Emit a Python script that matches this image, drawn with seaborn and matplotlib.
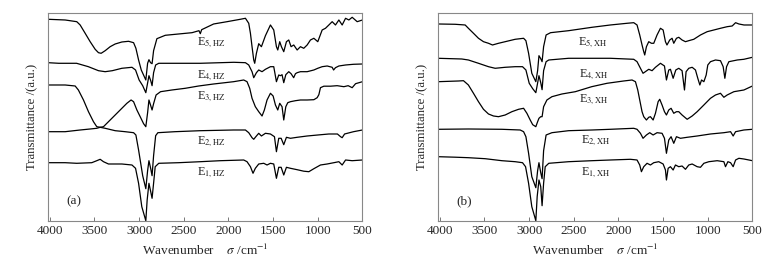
import numpy as np
import pandas as pd
import seaborn as sns
import matplotlib
matplotlib.use("Agg")
import matplotlib.pyplot as plt

# ---------------- data: panel (a) HZ ----------------
HZ_E5_W = [4019, 3828, 3698, 3660, 3604, 3548, 3492, 3455, 3425, 3380, 3324, 3268, 3193, 3118, 3062, 3036, 3006, 2976, 2925, 2905, 2890, 2872, 2855, 2838, 2801, 2707, 2558, 2408, 2330, 2315, 2300, 2166, 2016, 1867, 1810, 1773, 1754, 1736, 1717, 1706, 1687, 1661, 1631, 1586, 1530, 1493, 1463, 1448, 1426, 1407, 1381, 1351, 1325, 1299, 1269, 1231, 1194, 1157, 1119, 1082, 1044, 1000, 951, 914, 876, 839, 802, 764, 727, 689, 652, 615, 559, 500]
HZ_E5_T = [201.4, 200.7, 199, 195.7, 187.4, 179, 171.4, 168, 167.4, 170, 174, 176.7, 178.7, 179.4, 178, 172.4, 160.7, 150.7, 140.7, 157.4, 161, 158, 157, 170, 182, 185.4, 186.7, 188, 190, 187, 191, 196.7, 199, 201.4, 202.4, 197.4, 187.4, 174, 160.7, 157.4, 167.4, 177, 174, 185, 195.7, 190.7, 174, 170.7, 179, 174, 169, 179, 180.7, 174, 175.7, 170.7, 174, 172.4, 175.7, 180.7, 182.4, 179, 190.7, 192.4, 195.7, 199, 195.7, 200.7, 195.7, 202.4, 200.7, 203.4, 199, 200.7]

HZ_E4_W = [4019, 3900, 3700, 3568, 3455, 3380, 3300, 3193, 3080, 3040, 3000, 2960, 2925, 2890, 2870, 2855, 2838, 2815, 2780, 2600, 2315, 1940, 1810, 1773, 1736, 1717, 1687, 1661, 1624, 1586, 1530, 1493, 1463, 1437, 1418, 1400, 1381, 1358, 1325, 1299, 1270, 1250, 1231, 1194, 1119, 1044, 1000, 951, 895, 839, 823, 802, 764, 689, 600, 500]
HZ_E4_T = [158, 157.4, 157.4, 154, 150, 149, 150, 152.4, 153.4, 150.7, 140.7, 135, 128, 145, 140, 135, 148, 155.7, 157.4, 157.4, 157.4, 158.4, 158, 155.7, 149, 143, 148, 150.7, 149, 151.4, 154, 154, 139, 145.7, 145, 146, 138, 146, 149, 147, 143, 147, 148, 149, 149, 150.7, 152.4, 154, 154.7, 153.4, 150.7, 153, 154.7, 155.7, 156.4, 156.7]

HZ_E3_W = [4019, 3828, 3716, 3680, 3623, 3567, 3511, 3474, 3436, 3399, 3343, 3268, 3193, 3137, 3090, 3062, 3025, 2988, 2950, 2925, 2905, 2890, 2870, 2855, 2838, 2810, 2760, 2633, 2483, 2333, 2166, 1942, 1829, 1792, 1762, 1736, 1699, 1661, 1624, 1598, 1568, 1530, 1500, 1474, 1448, 1426, 1400, 1381, 1358, 1336, 1306, 1250, 1194, 1119, 1044, 1007, 988, 970, 932, 858, 783, 708, 660, 615, 577, 500]
HZ_E3_T = [135.7, 135.7, 134.7, 130.7, 120.7, 109, 99, 94, 93.4, 94, 99, 105.7, 112.4, 117.4, 120.7, 119, 110.7, 104, 97, 94, 108, 120.7, 115, 110.7, 117, 125.7, 129, 130.7, 132.4, 134.7, 136.7, 139, 140.7, 139, 132.4, 122.4, 114, 109, 104.7, 110.7, 120.7, 127.4, 124.7, 115.7, 110.7, 117.4, 114, 100.7, 114, 118, 119, 120, 120.7, 120.7, 121, 123, 126, 133, 134.5, 134.5, 135, 134, 135, 133, 137, 139]

HZ_E2_W = [4019, 3828, 3660, 3548, 3474, 3436, 3380, 3268, 3156, 3062, 3036, 3006, 2960, 2925, 2905, 2890, 2870, 2855, 2838, 2815, 2790, 2600, 2315, 1942, 1810, 1773, 1736, 1717, 1687, 1661, 1631, 1586, 1530, 1485, 1463, 1437, 1410, 1381, 1351, 1306, 1231, 1119, 1000, 876, 780, 745, 727, 700, 600, 500]
HZ_E2_T = [89, 89, 90.7, 91.7, 92.4, 93.4, 92.4, 90, 89, 88, 85.7, 70.7, 45, 32, 50, 60, 52, 45, 65, 85, 88, 89, 90, 90.7, 90.7, 88, 83, 81.4, 84.7, 87.4, 84.7, 87.4, 86.7, 84, 69, 82.4, 82.4, 76, 83.4, 82.4, 83.4, 84.7, 85.7, 86.7, 86.7, 84, 83, 86.7, 89, 90.7]

HZ_E1_W = [4019, 3828, 3698, 3530, 3474, 3436, 3399, 3343, 3193, 3080, 3040, 3006, 2970, 2925, 2910, 2890, 2870, 2855, 2838, 2820, 2780, 2558, 2315, 2091, 1829, 1792, 1754, 1725, 1699, 1661, 1605, 1568, 1530, 1493, 1463, 1437, 1410, 1381, 1351, 1306, 1231, 1157, 1100, 1044, 970, 895, 820, 764, 727, 689, 615, 500]
HZ_E1_T = [58, 58, 57.4, 58, 60, 61.4, 59, 56.7, 56.7, 55.7, 52.4, 37.4, 14, 0, 20.7, 37.4, 29, 22.4, 37.4, 54, 57.4, 58, 59, 60, 60.7, 59, 54, 47.4, 52.4, 56.7, 57.4, 55.7, 57.4, 56.7, 42.4, 53.4, 53.4, 45.7, 53.4, 52.4, 51, 49.5, 49, 52, 55.7, 56.7, 58, 59, 55.7, 60.7, 60, 60.7]

# ---------------- data: panel (b) XH ----------------
XH_E5_W = [4019, 3828, 3716, 3680, 3623, 3567, 3511, 3455, 3410, 3343, 3268, 3156, 3062, 3036, 3006, 2970, 2925, 2905, 2890, 2870, 2855, 2838, 2810, 2760, 2558, 2296, 2091, 1904, 1829, 1792, 1762, 1736, 1717, 1706, 1687, 1661, 1631, 1605, 1568, 1530, 1500, 1474, 1457, 1426, 1400, 1381, 1351, 1325, 1288, 1250, 1213, 1157, 1082, 1007, 932, 858, 783, 727, 689, 652, 595, 500]
XH_E5_T = [196.7, 196.4, 195.7, 192.4, 187.4, 182.4, 179, 177.4, 175.7, 177.4, 179, 181.4, 182.4, 180, 167.4, 147.4, 139, 150, 165, 162, 159, 174, 185.7, 188, 190, 193.4, 195.7, 197.4, 198, 195.7, 185.7, 175.7, 169, 165.7, 174, 179, 177.4, 177.4, 185.7, 192.4, 190.7, 179, 175.7, 180.7, 182.4, 177.4, 182.4, 183.4, 180.7, 179, 180, 181.4, 185.7, 189, 190.7, 192.4, 194, 194.7, 198, 196.7, 195.7, 195.7]

XH_E4_W = [4019, 3754, 3680, 3567, 3455, 3380, 3268, 3156, 3074, 3036, 2999, 2960, 2925, 2890, 2870, 2855, 2838, 2810, 2780, 2558, 2315, 2091, 1829, 1792, 1754, 1725, 1699, 1661, 1624, 1586, 1530, 1485, 1463, 1437, 1418, 1388, 1358, 1325, 1288, 1261, 1243, 1213, 1175, 1138, 1112, 1089, 1070, 1044, 1018, 1000, 970, 914, 858, 828, 809, 790, 764, 670, 596, 500]
XH_E4_T = [162.4, 161.7, 160.7, 157.4, 154, 152.4, 153.4, 154, 154, 150.7, 137.4, 132, 128, 145, 138, 131, 150, 159, 160.7, 162.4, 162.4, 162.4, 161.4, 159, 152.4, 147.4, 149, 151.4, 150, 153.4, 157.4, 154.7, 140.7, 150.7, 151.4, 142.4, 150.7, 152.4, 150, 130.7, 149, 152.4, 153.4, 150.7, 142.4, 135.7, 140.7, 139, 145.7, 155.7, 159, 160.7, 160, 154, 142.4, 154, 159, 160.7, 161.4, 163.4]

XH_E3_W = [4019, 3791, 3735, 3680, 3623, 3567, 3511, 3455, 3399, 3343, 3268, 3193, 3118, 3062, 3025, 2988, 2960, 2925, 2905, 2890, 2870, 2855, 2838, 2801, 2745, 2633, 2483, 2300, 2128, 1942, 1848, 1810, 1784, 1762, 1736, 1717, 1687, 1661, 1642, 1612, 1586, 1556, 1538, 1512, 1485, 1463, 1437, 1411, 1381, 1351, 1325, 1288, 1231, 1175, 1119, 1044, 970, 914, 858, 820, 783, 708, 596, 500]
XH_E3_T = [139, 139.7, 140, 135.7, 127.4, 119, 111.4, 106.7, 104.7, 104, 105.7, 109, 111.4, 112.4, 107.4, 100.7, 96, 94, 99, 102.4, 104, 104, 114, 120.7, 124, 126.7, 129, 134, 137.4, 139.7, 140.7, 139, 130.7, 120.7, 109, 104, 100.7, 103.4, 104, 100.7, 107.4, 119, 121.4, 115.7, 109, 105.7, 110.7, 112.4, 107.4, 109, 109, 105.7, 101.4, 104.7, 109, 115.7, 122.4, 125.7, 127.4, 123.4, 125.7, 129, 130.7, 134.7]

XH_E2_W = [4019, 3679, 3305, 3100, 3062, 3036, 3006, 2970, 2925, 2905, 2890, 2870, 2855, 2838, 2810, 2745, 2558, 2296, 2091, 1829, 1792, 1754, 1725, 1687, 1650, 1612, 1568, 1512, 1485, 1463, 1437, 1411, 1381, 1351, 1306, 1231, 1119, 970, 820, 745, 716, 689, 596, 500]
XH_E2_T = [91.4, 91.7, 91.4, 90.7, 89, 84, 67.4, 44, 33, 50, 58, 48, 42, 70, 85.7, 88, 90, 90.7, 91.4, 92.4, 91.4, 87.4, 82.4, 85.7, 88, 85.7, 88, 87.4, 82.4, 67.4, 80.7, 84, 77.4, 84, 82.4, 83.4, 84.7, 86.7, 88, 89, 84.7, 89, 90.7, 91.4]

XH_E1_W = [4019, 3828, 3680, 3492, 3305, 3156, 3074, 3040, 3006, 2970, 2925, 2910, 2890, 2870, 2855, 2838, 2820, 2780, 2558, 2296, 2091, 1867, 1792, 1762, 1743, 1717, 1680, 1642, 1605, 1549, 1500, 1474, 1463, 1444, 1418, 1388, 1362, 1325, 1288, 1250, 1213, 1175, 1119, 1082, 1044, 988, 895, 820, 802, 775, 745, 716, 689, 652, 596, 500]
XH_E1_T = [64, 63.5, 63, 62, 60, 59, 58, 54, 37.4, 14, 0, 24, 40.7, 34, 15, 37.4, 54, 57.4, 59, 60, 60.7, 61.4, 60.7, 55.7, 49, 54, 57.4, 55.7, 58, 59, 56.7, 50.7, 40.7, 52.4, 54, 50.7, 55.7, 54, 54.7, 51.4, 55.7, 56.7, 54, 53.4, 57.4, 59, 60, 59, 54, 59, 58, 54, 60.7, 62.4, 61.7, 60]

HZ_LABELS = ["5,HZ", "4,HZ", "3,HZ", "2,HZ", "1,HZ"]
XH_LABELS = ["5,XH", "4,XH", "3,XH", "2,XH", "1,XH"]
XTICKS = [4000, 3500, 3000, 2500, 2000, 1500, 1000, 500]

HZ = [(HZ_E5_W, HZ_E5_T), (HZ_E4_W, HZ_E4_T), (HZ_E3_W, HZ_E3_T), (HZ_E2_W, HZ_E2_T), (HZ_E1_W, HZ_E1_T)]
XH = [(XH_E5_W, XH_E5_T), (XH_E4_W, XH_E4_T), (XH_E3_W, XH_E3_T), (XH_E2_W, XH_E2_T), (XH_E1_W, XH_E1_T)]


def to_df(series, labels):
    frames = []
    for (w, t), lab in zip(series, labels):
        frames.append(pd.DataFrame({"wavenumber": w, "T": t, "sample": lab}))
    return pd.concat(frames, ignore_index=True)


sns.set_theme(style="white")
plt.rcParams["font.family"] = ["Liberation Serif", "DejaVu Serif"]
plt.rcParams["mathtext.fontset"] = "stix"

fig = plt.figure(figsize=(7.83, 2.61), dpi=100)
ax_a = fig.add_axes([0.0613, 0.1544, 0.4016, 0.797])
ax_b = fig.add_axes([0.5594, 0.1544, 0.4016, 0.797])

# label positions (wavenumber, value) per panel
pos_a = [(2352, 177.7), (2352, 144.7), (2352, 123.7), (2352, 78.7), (2352, 47.7)]
pos_b = [(2450, 177.7), (2440, 145.7), (2440, 120.7), (2424, 79.7), (2424, 47.7)]

for ax, series, labels, pos, tag in [(ax_a, HZ, HZ_LABELS, pos_a, "(a)"),
                                     (ax_b, XH, XH_LABELS, pos_b, "(b)")]:
    df = to_df(series, labels)
    sns.lineplot(data=df, x="wavenumber", y="T", units="sample", estimator=None,
                 color="black", linewidth=0.9, ax=ax, legend=False)
    ax.set_xlim(4020, 500)
    ax.set_ylim(0, 208)
    ax.set_xticks(XTICKS)
    ax.set_xticklabels([str(v) for v in XTICKS], fontsize=9.5)
    ax.set_yticks([])
    ax.tick_params(axis="x", direction="in", length=3, width=0.7, color="#777777",
                   pad=3, bottom=True, top=False)
    for sp in ax.spines.values():
        sp.set_color("#888888")
        sp.set_linewidth(0.8)
    ax.set_xlabel(r"Wavenumber    $\sigma$ /cm$^{-1}$", fontsize=9.5, labelpad=4)
    ax.set_ylabel("Transmittance /(a.u.)", fontsize=9.2, labelpad=7)
    for lab, (xw, yv) in zip(labels, pos):
        ax.text(xw, yv, r"E$_{\mathrm{" + lab + "}}$", fontsize=8.8, ha="left",
                va="center", color="#222222")
    ax.text(3730, 19, tag, fontsize=9.5, ha="center", va="center")

fig.savefig("out.png", dpi=100)
